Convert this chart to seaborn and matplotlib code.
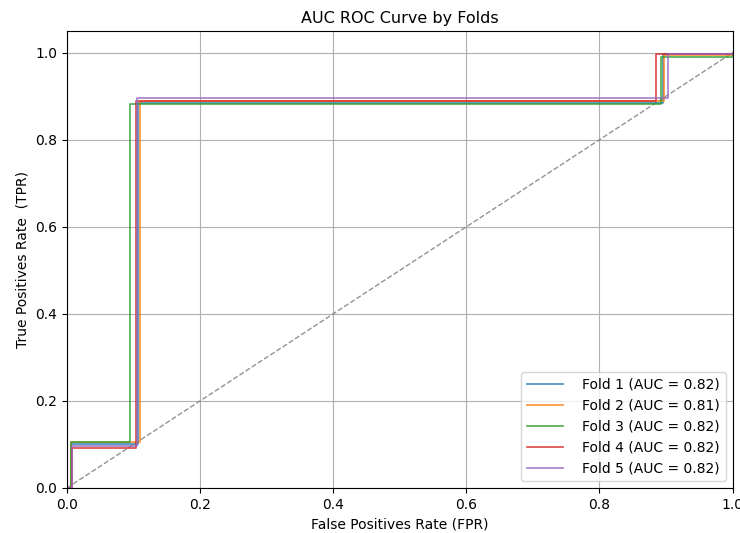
import matplotlib
matplotlib.use("Agg")
import matplotlib.pyplot as plt
import seaborn as sns
import pandas as pd

labels = ["Fold 1 (AUC = 0.82)", "Fold 2 (AUC = 0.81)", "Fold 3 (AUC = 0.82)",
          "Fold 4 (AUC = 0.82)", "Fold 5 (AUC = 0.82)"]
fpr1 = [0, 0.006, 0.006, 0.106, 0.106, 0.895, 0.895, 1.0, 1.0]
tpr1 = [0, 0, 0.100, 0.100, 0.885, 0.885, 0.997, 0.997, 1.0]
fpr2 = [0, 0.006, 0.006, 0.110, 0.110, 0.897, 0.897, 1.0, 1.0]
tpr2 = [0, 0, 0.105, 0.105, 0.888, 0.888, 0.995, 0.995, 1.0]
fpr3 = [0, 0.006, 0.006, 0.095, 0.095, 0.893, 0.893, 1.0, 1.0]
tpr3 = [0, 0, 0.105, 0.105, 0.883, 0.883, 0.991, 0.991, 1.0]
fpr4 = [0, 0.008, 0.008, 0.104, 0.104, 0.885, 0.885, 1.0, 1.0]
tpr4 = [0, 0, 0.092, 0.092, 0.890, 0.890, 0.998, 0.998, 1.0]
fpr5 = [0, 0.007, 0.007, 0.105, 0.105, 0.903, 0.903, 1.0, 1.0]
tpr5 = [0, 0, 0.097, 0.097, 0.897, 0.897, 0.998, 0.998, 1.0]

fprs = [fpr1, fpr2, fpr3, fpr4, fpr5]
tprs = [tpr1, tpr2, tpr3, tpr4, tpr5]
colors = ["#1f77b4", "#ff7f0e", "#2ca02c", "#d62728", "#9467bd"]

rows = []
for lab, f, t in zip(labels, fprs, tprs):
    for i, (a, b) in enumerate(zip(f, t)):
        rows.append({"fold": lab, "fpr": a, "tpr": b, "order": i})
df = pd.DataFrame(rows)

fig, ax = plt.subplots(figsize=(7.4, 5.33), dpi=100)
fig.subplots_adjust(left=0.0905, right=0.99, bottom=0.0845, top=0.942)

ax.plot([0, 1], [0, 1], linestyle="--", color="grey", linewidth=1.0, alpha=0.85)
sns.lineplot(data=df, x="fpr", y="tpr", hue="fold", units="fold", estimator=None,
             sort=False, palette=colors, linewidth=1.2, alpha=0.85, ax=ax)

ax.set_xlim(0, 1.0)
ax.set_ylim(0, 1.05)
ax.grid(True)
ax.set_title("AUC ROC Curve by Folds", fontsize=11.5)
ax.set_xlabel("False Positives Rate (FPR)")
ax.set_ylabel("True Positives Rate  (TPR)")
ax.legend(loc="lower right", title=None, handlelength=2.6, handletextpad=1.4)

fig.savefig("out.png", dpi=100)
